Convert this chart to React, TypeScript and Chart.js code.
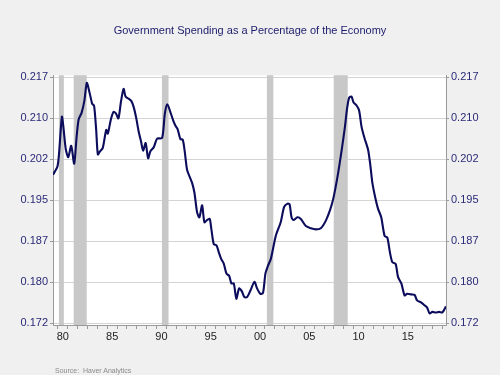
import React, { useEffect, useRef } from "react";
import { Chart, registerables } from "chart.js";

Chart.register(...registerables);

const titleText = "Government Spending as a Percentage of the Economy";
const sourceText = "Source:  Haver Analytics";

const years = [
  1979.5, 1979.95, 1980.12, 1980.4, 1980.55, 1980.8, 1981.05, 1981.35, 1981.65, 1981.9,
  1982.1, 1982.4, 1982.69, 1982.93, 1983.2, 1983.47, 1983.67, 1983.88, 1984.05, 1984.28,
  1984.55, 1984.9, 1985.06, 1985.37, 1985.64, 1985.88, 1986.14, 1986.39, 1986.66, 1986.86,
  1987.17, 1987.44, 1987.68, 1987.95, 1988.19, 1988.43, 1988.64, 1988.9, 1989.15, 1989.38,
  1989.72, 1990.06, 1990.57, 1990.85, 1991.1, 1991.4, 1991.68, 1991.94, 1992.15, 1992.42,
  1992.66, 1992.86, 1993.1, 1993.37, 1993.61, 1993.85, 1994.12, 1994.35, 1994.63, 1994.86,
  1995.13, 1995.4, 1995.57, 1995.81, 1996.08, 1996.32, 1996.56, 1996.83, 1997.1, 1997.37,
  1997.6, 1997.84, 1998.1, 1998.38, 1998.65, 1998.92, 1999.19, 1999.53, 1999.94, 2000.2,
  2000.54, 2000.81, 2001.05, 2001.3, 2001.6, 2002.1, 2002.6, 2002.95, 2003.3, 2003.5,
  2003.7, 2003.9, 2004.3, 2004.64, 2005.15, 2005.66, 2006.16, 2006.67, 2007.18, 2007.62,
  2007.96, 2008.4, 2008.77, 2009.1, 2009.34, 2009.55, 2009.78, 2010.0, 2010.28, 2010.55,
  2010.8, 2011.1, 2011.46, 2011.69, 2011.9, 2012.23, 2012.47, 2012.8, 2013.14, 2013.42,
  2013.65, 2013.92, 2014.26, 2014.5, 2014.84, 2015.17, 2015.42, 2015.85, 2016.19, 2016.43,
  2016.87, 2017.2, 2017.45, 2017.71, 2017.99, 2018.32, 2018.67, 2019.0, 2019.37,
];

const spending = [
  0.1997, 0.2012, 0.2037, 0.2103, 0.2085, 0.2043, 0.2029, 0.205, 0.2017, 0.2067,
  0.2098, 0.211, 0.2133, 0.2165, 0.2148, 0.2127, 0.2123, 0.2079, 0.2034, 0.204,
  0.2046, 0.2079, 0.2072, 0.2098, 0.2112, 0.2109, 0.21, 0.213, 0.2154, 0.214,
  0.2136, 0.2132, 0.2121, 0.21, 0.2076, 0.2058, 0.2041, 0.2055, 0.2027, 0.204,
  0.2047, 0.2063, 0.2064, 0.2109, 0.2126, 0.2112, 0.2097, 0.2086, 0.208, 0.2062,
  0.2061, 0.204, 0.2006, 0.1993, 0.1982, 0.1964, 0.1928, 0.1919, 0.1941, 0.191,
  0.1914, 0.1916, 0.1897, 0.187, 0.1868, 0.1855, 0.1843, 0.1834, 0.1816, 0.1812,
  0.1798, 0.1798, 0.177, 0.1789, 0.1784, 0.1773, 0.1773, 0.1785, 0.1801, 0.1789,
  0.1779, 0.1781, 0.1816, 0.183, 0.1843, 0.1885, 0.191, 0.1938, 0.1944, 0.1943,
  0.1919, 0.1914, 0.1919, 0.1916, 0.1903, 0.1899, 0.1897, 0.1899, 0.1913, 0.1933,
  0.1955, 0.1997, 0.204, 0.2082, 0.2119, 0.2138, 0.214, 0.2129, 0.2124, 0.2115,
  0.2085, 0.2064, 0.2043, 0.2015, 0.1982, 0.1952, 0.1935, 0.1919, 0.1885, 0.1882,
  0.1858, 0.1837, 0.1834, 0.181, 0.1798, 0.1776, 0.1779, 0.1778, 0.1777, 0.1767,
  0.1763, 0.1758, 0.1754, 0.1743, 0.1746, 0.1745, 0.1746, 0.1745, 0.1756,
];

const recessionStarts = [1980.1, 1981.6, 1990.55, 2001.2, 2007.98];
const recessionEnds = [1980.6, 1982.92, 1991.22, 2001.85, 2009.4];

const yTickValues = [0.1725, 0.18, 0.1875, 0.195, 0.2025, 0.21, 0.2175];
const yTickLabels = ["0.172", "0.180", "0.187", "0.195", "0.202", "0.210", "0.217"];

const xLabelYears = [1980, 1985, 1990, 1995, 2000, 2005, 2010, 2015];
const xLabels = ["80", "85", "90", "95", "00", "05", "10", "15"];

const X_MIN = 1979.5;
const X_MAX = 2019.37;
const Y_MIN = 0.1722;
const Y_MAX = 0.2179;

const NAVY = "#0c0c5c";
const LABEL_NAVY = "#2a2a78";
const AXIS_GRAY = "#9a9a9a";

const backgroundPlugin = {
  id: "plotBackground",
  beforeDraw(chart: any) {
    const { ctx, chartArea } = chart;
    ctx.save();
    ctx.fillStyle = "#ffffff";
    ctx.fillRect(chartArea.left, chartArea.top, chartArea.right - chartArea.left, chartArea.bottom - chartArea.top);
    ctx.restore();
  },
};

const recessionPlugin = {
  id: "recessions",
  beforeDatasetsDraw(chart: any) {
    const { ctx, chartArea, scales } = chart;
    const xs = scales.x;
    ctx.save();
    ctx.fillStyle = "#c8c8c8";
    for (let i = 0; i < recessionStarts.length; i++) {
      const x0 = xs.getPixelForValue(recessionStarts[i]);
      const x1 = xs.getPixelForValue(recessionEnds[i]);
      ctx.fillRect(x0, chartArea.top, x1 - x0, chartArea.bottom - chartArea.top);
    }
    ctx.restore();
  },
};

export default function App() {
  const canvasRef = useRef<HTMLCanvasElement | null>(null);

  useEffect(() => {
    if (!canvasRef.current) return;
    const yTickFont = { size: 11, family: "'Liberation Sans', Arial, sans-serif" };
    const makeYAxis = (position: "left" | "right", width: number, gridOnChart: boolean) => ({
      type: "linear" as const,
      position,
      min: Y_MIN,
      max: Y_MAX,
      afterBuildTicks: (scale: any) => {
        scale.ticks = yTickValues.map((v) => ({ value: v }));
      },
      afterFit: (scale: any) => {
        scale.width = width;
      },
      ticks: {
        color: LABEL_NAVY,
        font: yTickFont,
        padding: 2,
        callback: (_v: any, i: number) => yTickLabels[i],
      },
      grid: {
        drawOnChartArea: gridOnChart,
        color: "#d4d4d4",
        lineWidth: 1,
        drawTicks: true,
        tickLength: 3,
        tickColor: AXIS_GRAY,
      },
      border: { display: true, color: AXIS_GRAY, width: 1 },
    });

    const chart = new Chart(canvasRef.current, {
      type: "line",
      data: {
        datasets: [
          {
            data: years.map((x, i) => ({ x, y: spending[i] })),
            borderColor: NAVY,
            borderWidth: 2.1,
            pointRadius: 0,
            tension: 0.25,
            fill: false,
            yAxisID: "y",
          },
        ],
      },
      options: {
        animation: false,
        responsive: false,
        maintainAspectRatio: false,
        devicePixelRatio: 1,
        layout: { padding: 0 },
        plugins: {
          legend: { display: false },
          tooltip: { enabled: false },
          title: {
            display: true,
            text: titleText,
            color: "#1c1c6c",
            font: { size: 11, weight: "normal", family: "'Liberation Sans', Arial, sans-serif" },
            padding: { top: 24, bottom: 38 },
          },
        },
        scales: {
          x: {
            type: "linear",
            min: X_MIN,
            max: X_MAX,
            afterBuildTicks: (scale: any) => {
              const t: any[] = [];
              for (let y = 1980; y <= 2019; y++) {
                t.push({ value: y });
                if (xLabelYears.includes(y)) t.push({ value: y + 0.5 });
              }
              scale.ticks = t;
            },
            afterFit: (scale: any) => {
              scale.height = 50;
            },
            ticks: {
              autoSkip: false,
              maxRotation: 0,
              color: "#222222",
              padding: 1,
              font: { size: 11, family: "'Liberation Sans', Arial, sans-serif" },
              callback: (v: any) => {
                const idx = xLabelYears.indexOf(Number(v) - 0.5);
                return idx >= 0 ? xLabels[idx] : "";
              },
            },
            grid: {
              drawOnChartArea: false,
              drawTicks: true,
              tickLength: 4,
              tickColor: (ctx: any) =>
                ctx.tick && Number.isInteger(ctx.tick.value) ? AXIS_GRAY : "rgba(0,0,0,0)",
            },
            border: { display: true, color: AXIS_GRAY, width: 1 },
          },
          y: makeYAxis("left", 53, true),
          y2: makeYAxis("right", 54, false),
        },
      } as any,
      plugins: [backgroundPlugin, recessionPlugin],
    });
    return () => chart.destroy();
  }, []);

  return (
    <div
      style={{
        position: "fixed",
        left: 0,
        top: 0,
        width: 500,
        height: 375,
        background: "#f0f0f0",
      }}
    >
      <canvas ref={canvasRef} width={500} height={375} style={{ display: "block" }} />
      <div
        style={{
          position: "absolute",
          left: 55,
          top: 367,
          fontSize: 7,
          color: "#8a8a8a",
          fontFamily: "'Liberation Sans', Arial, sans-serif",
          whiteSpace: "pre",
          lineHeight: "8px",
        }}
      >
        {sourceText}
      </div>
    </div>
  );
}
